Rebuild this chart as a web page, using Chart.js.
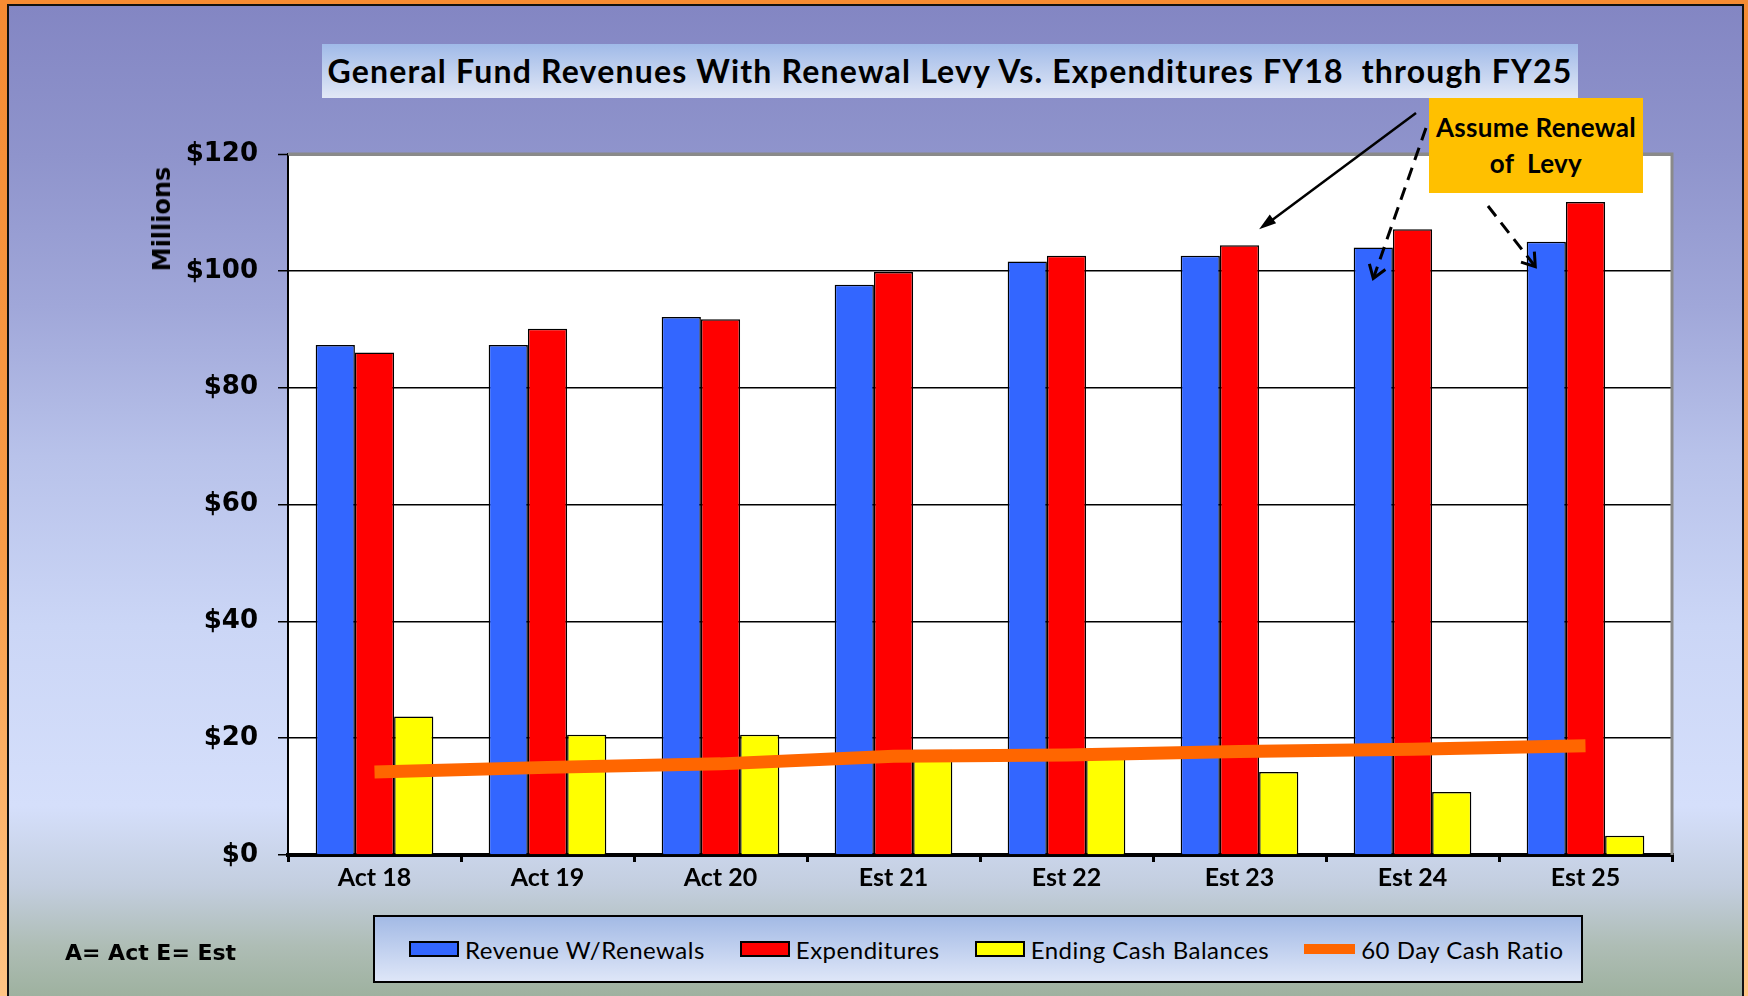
<!DOCTYPE html>
<html>
<head>
<meta charset="utf-8">
<title>General Fund Revenues vs Expenditures</title>
<script src="https://cdn.jsdelivr.net/npm/chart.js@4.4.1/dist/chart.umd.min.js"></script>
<style>
  html, body { margin: 0; padding: 0; }
  #frame {
    position: relative; width: 1748px; height: 996px; overflow: hidden;
    background: linear-gradient(to bottom, #F58B33 0%, #F89C48 55%, #FFC585 100%);
  }
  #panel {
    position: absolute; left: 7px; top: 4px; width: 1733px; height: 1000px;
    border: 2px solid #111; border-bottom: none;
    background: linear-gradient(to bottom, #8386C3 0%, #8F94CC 15%, #A0A7D9 30%, #B8C2EA 45%,
      #CBD6F6 62%, #D5DFFB 80%, #C3CEDF 88%, #AEBDB5 94%, #9BAF9B 100%);
  }
  #chart { position: absolute; left: 0; top: 0; }
  #title {
    position: absolute; left: 322px; top: 44px; width: 1256px; height: 54px;
    background: linear-gradient(to bottom, #A0BAE8, #E2E8F6);
    font: bold 32px Lato, sans-serif; color: #000; white-space: pre;
    text-align: center; line-height: 54px; letter-spacing: 1.2px;
  }
  #ylabel {
    position: absolute; left: 162px; top: 219px; transform: translate(-50%, -50%) rotate(-90deg);
    font: bold 24px "DejaVu Sans", sans-serif; color: #000; white-space: nowrap;
  }
  #note {
    position: absolute; left: 1429px; top: 98px; width: 214px; height: 95px;
    background: #FFC000; text-align: center;
    font: bold 26px Lato, sans-serif; line-height: 36px; padding-top: 11px; box-sizing: border-box;
    white-space: pre; letter-spacing: 0.3px;
  }
  #key {
    position: absolute; left: 65px; top: 952px; transform: translateY(-50%);
    font: bold 22px "DejaVu Sans", sans-serif; color: #000; white-space: pre;
  }
  #legend {
    position: absolute; left: 373px; top: 915px; width: 1210px; height: 68px;
    box-sizing: border-box; border: 2px solid #000;
    background: linear-gradient(to bottom, #A3BAE5, #DEE6F8);
    display: flex; align-items: center; padding-left: 34px; gap: 35px;
    font: 24px Lato, sans-serif; letter-spacing: 0.5px; color: #000;
  }
  #legend .item { display: flex; align-items: center; gap: 6px; white-space: nowrap; }
  #legend .box { width: 46px; height: 12px; border: 2px solid #000; }
  #legend .line { width: 51px; height: 10px; }
</style>
</head>
<body>
<div id="frame">
  <div id="panel"></div>
  <canvas id="chart" width="1748" height="996"></canvas>
  <div id="title">General Fund Revenues With Renewal Levy Vs. Expenditures FY18  through FY25</div>
  <div id="ylabel">Millions</div>
  <div id="note">Assume Renewal
of  Levy</div>
  <div id="key">A= Act E= Est</div>
  <div id="legend"></div>
</div>

<script>
// Data (millions of dollars)
const categories = ["Act 18", "Act 19", "Act 20", "Est 21", "Est 22", "Est 23", "Est 24", "Est 25"];
const revenue = [87.3, 87.3, 92.1, 97.6, 101.6, 102.6, 104.0, 105.0];
const expenditures = [86.0, 90.1, 91.7, 99.8, 102.6, 104.4, 107.1, 111.8];
const cashBalances = [23.7, 20.6, 20.6, 18.0, 17.2, 14.2, 10.8, 3.3];
const cashRatio = [14.2, 15.0, 15.6, 16.9, 17.1, 17.7, 18.1, 18.7];
const yTicks = [0, 20, 40, 60, 80, 100, 120];

// Annotation box (matches #note)
const noteBox = { left: 1429, top: 98, right: 1643, bottom: 193 };

// --- Plugins ---
const plotBackground = {
    id: "plotBackground",
    beforeDraw(chart) {
        const { ctx, chartArea: a } = chart;
        ctx.save();
        ctx.fillStyle = "#ffffff";
        ctx.fillRect(a.left, a.top, a.right - a.left, a.bottom - a.top);
        ctx.restore();
    },
    beforeDatasetsDraw(chart) {
        const { ctx, chartArea: a } = chart;
        ctx.save();
        ctx.strokeStyle = "#8a8a8a";
        ctx.lineWidth = 3;
        ctx.beginPath();
        ctx.moveTo(a.left, a.top);
        ctx.lineTo(a.right, a.top);
        ctx.lineTo(a.right, a.bottom);
        ctx.stroke();
        ctx.restore();
    }
};

function arrowHead(ctx, x0, y0, x1, y1, len, spread, filled) {
    const ang = Math.atan2(y1 - y0, x1 - x0);
    const ax = x1 - len * Math.cos(ang - spread), ay = y1 - len * Math.sin(ang - spread);
    const bx = x1 - len * Math.cos(ang + spread), by = y1 - len * Math.sin(ang + spread);
    ctx.setLineDash([]);
    ctx.beginPath();
    ctx.moveTo(ax, ay);
    ctx.lineTo(x1, y1);
    ctx.lineTo(bx, by);
    if (filled) { ctx.closePath(); ctx.fill(); } else { ctx.stroke(); }
}

const levyArrows = {
    id: "levyArrows",
    afterDraw(chart) {
        const ctx = chart.ctx;
        const rev = chart.getDatasetMeta(0).data;
        const exp = chart.getDatasetMeta(1).data;

        // tips relative to the bars they point at
        const t1 = { x: exp[5].x + exp[5].width / 2, y: exp[5].y - 16 };
        const t2 = { x: rev[6].x, y: rev[6].y + 31 };
        const t3 = { x: rev[7].x - 11, y: rev[7].y + 25 };

        ctx.save();
        ctx.strokeStyle = "#000";
        ctx.fillStyle = "#000";
        ctx.lineWidth = 2.5;

        // solid arrow
        const s1 = { x: noteBox.left - 13, y: noteBox.top + 15 };
        ctx.beginPath();
        ctx.moveTo(s1.x, s1.y);
        ctx.lineTo(t1.x + 6, t1.y - 4);
        ctx.stroke();
        arrowHead(ctx, s1.x, s1.y, t1.x, t1.y, 18, 0.3, true);

        // dashed arrows
        ctx.lineWidth = 3;
        const s2 = { x: noteBox.left - 3, y: noteBox.top + 30 };
        ctx.setLineDash([13, 8]);
        ctx.beginPath();
        ctx.moveTo(s2.x, s2.y);
        ctx.lineTo(t2.x, t2.y);
        ctx.stroke();
        arrowHead(ctx, s2.x, s2.y, t2.x, t2.y, 15, 0.6, false);

        const s3 = { x: noteBox.left + 59, y: noteBox.bottom + 13 };
        ctx.setLineDash([13, 8]);
        ctx.beginPath();
        ctx.moveTo(s3.x, s3.y);
        ctx.lineTo(t3.x, t3.y);
        ctx.stroke();
        arrowHead(ctx, s3.x, s3.y, t3.x, t3.y, 15, 0.6, false);
        ctx.restore();
    }
};

// --- Chart ---
const ctx = document.getElementById("chart").getContext("2d");

const chart = new Chart(ctx, {
    type: "bar",
    data: {
        labels: categories,
        datasets: [
            { label: "Revenue W/Renewals", data: revenue, backgroundColor: "#3366FF",
              borderColor: "#000", borderWidth: 1.5, order: 1 },
            { label: "Expenditures", data: expenditures, backgroundColor: "#FF0000",
              borderColor: "#000", borderWidth: 1.5, order: 1 },
            { label: "Ending Cash Balances", data: cashBalances, backgroundColor: "#FFFF00",
              borderColor: "#000", borderWidth: 1.5, order: 1 },
            { type: "line", label: "60 Day Cash Ratio", data: cashRatio, borderColor: "#FF6600",
              backgroundColor: "#FF6600", borderWidth: 13, pointRadius: 0, tension: 0,
              borderCapStyle: "butt", fill: false, order: 0 }
        ]
    },
    options: {
        responsive: false,
        devicePixelRatio: 1,
        animation: false,
        categoryPercentage: 0.68,
        barPercentage: 1.0,
        layout: { padding: { left: 0, top: 154, right: 76, bottom: 0 } },
        plugins: {
            legend: { display: false },
            tooltip: { enabled: false },
            title: { display: false }
        },
        scales: {
            x: {
                offset: true,
                grid: { display: true, drawOnChartArea: false, drawTicks: true, tickLength: 7,
                        color: "#000", lineWidth: 3, offset: true },
                border: { display: true, color: "#000", width: 4 },
                ticks: { color: "#000", padding: 1, maxRotation: 0,
                         font: { family: "Lato", weight: "bold", size: 25 } },
                afterFit(scale) { scale.height = 141; }
            },
            y: {
                min: yTicks[0],
                max: yTicks[yTicks.length - 1],
                afterBuildTicks(scale) { scale.ticks = yTicks.map(v => ({ value: v })); },
                ticks: { color: "#000", padding: 20, callback: v => "$" + v,
                         font: { family: "DejaVu Sans", weight: "bold", size: 26 } },
                grid: {
                    color: c => (c.tick && c.tick.value === 120 ? "#8a8a8a" : "#000"),
                    lineWidth: c => (c.tick && c.tick.value === 120 ? 3 : 1.5),
                    tickColor: "#000", tickWidth: 1.5, tickLength: 10
                },
                border: { color: "#000", width: 2 },
                afterFit(scale) { scale.width = 288; }
            }
        }
    },
    plugins: [plotBackground, levyArrows]
});

// --- HTML legend built from the datasets ---
const legendEl = document.getElementById("legend");
chart.data.datasets.forEach(ds => {
    const item = document.createElement("span");
    item.className = "item";
    const sw = document.createElement("span");
    if (ds.type === "line") {
        sw.className = "line";
        sw.style.background = ds.borderColor;
    } else {
        sw.className = "box";
        sw.style.background = ds.backgroundColor;
    }
    item.appendChild(sw);
    item.appendChild(document.createTextNode(ds.label));
    legendEl.appendChild(item);
});
</script>
</body>
</html>
